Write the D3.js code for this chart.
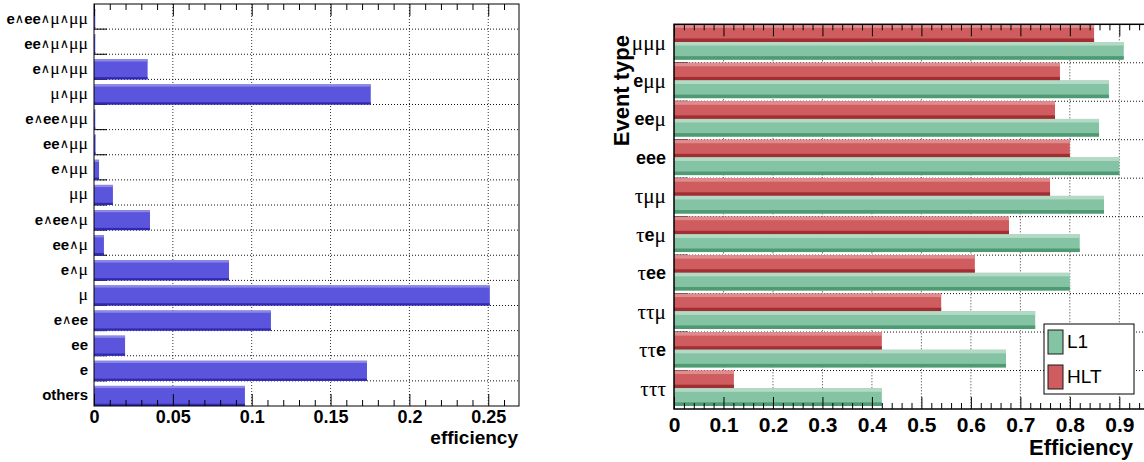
<!DOCTYPE html>
<html><head><meta charset="utf-8">
<script src="https://cdn.jsdelivr.net/npm/d3@7"></script>
<style>
body{margin:0;background:#fff}
svg{display:block}
text{font-family:"Liberation Sans",Arial,Helvetica,sans-serif}
</style>
</head><body>
<svg id="c" width="1144" height="462"></svg>
<script>
// ---------- data ----------
const leftCategories = ["e∧ee∧μ∧μμ","ee∧μ∧μμ","e∧μ∧μμ","μ∧μμ","e∧ee∧μμ","ee∧μμ","e∧μμ","μμ","e∧ee∧μ","ee∧μ","e∧μ","μ","e∧ee","ee","e","others"];
const leftValues = [0.0008,0.0008,0.034,0.1755,0.0008,0.001,0.0032,0.012,0.0355,0.0063,0.0856,0.251,0.1122,0.0197,0.1731,0.0957];
const leftTicks = [0,0.05,0.1,0.15,0.2,0.25];
const leftTickLabels = ["0","0.05","0.1","0.15","0.2","0.25"];
const leftTitle = "efficiency";

const rightCategories = ["μμμ","eμμ","eeμ","eee","τμμ","τeμ","τee","ττμ","ττe","τττ"];
const l1Values  = [0.909,0.879,0.859,0.900,0.869,0.820,0.800,0.730,0.671,0.420];
const hltValues = [0.849,0.780,0.770,0.800,0.760,0.677,0.608,0.540,0.420,0.121];
const rightTicks = [0,0.1,0.2,0.3,0.4,0.5,0.6,0.7,0.8,0.9];
const rightTickLabels = ["0","0.1","0.2","0.3","0.4","0.5","0.6","0.7","0.8","0.9"];
const rightTitle = "Efficiency";
const rightYTitle = "Event type";
const seriesNames = ["L1","HLT"];

// ---------- styles ----------
const blue = {light:"#8c88e6", main:"#5a55dc", dark:"#3128b0"};
const green = {light:"#b4dac6", main:"#85c3a5", dark:"#4d9a73"};
const red = {light:"#df8c8e", main:"#cf5c5e", dark:"#a12e33"};

const svg = d3.select("#c");

function hbar(g, x0, x1, y0, y1, c, frac){
  const h = y1 - y0, s = h*frac;
  const w = Math.max(0,x1-x0);
  g.append("rect").attr("x",x0).attr("y",y0).attr("width",w).attr("height",h).attr("fill",c.main);
  g.append("rect").attr("x",x0).attr("y",y0).attr("width",w).attr("height",s).attr("fill",c.light);
  g.append("rect").attr("x",x0).attr("y",y1-s).attr("width",w).attr("height",s).attr("fill",c.dark);
}

function richLabel(g, str, x, y, size){
  const t = g.append("text").attr("x",x).attr("y",y).attr("text-anchor","end")
    .attr("dominant-baseline","central").attr("font-size",size);
  for (const ch of str){
    if (/[μτ]/.test(ch)){
      t.append("tspan").text(ch).attr("font-family","Liberation Serif, DejaVu Serif, serif")
        .attr("font-weight","normal").attr("font-size",size*1.18);
    } else if (ch === "∧"){
      t.append("tspan").text(ch).attr("font-family","DejaVu Sans, sans-serif")
        .attr("font-weight","normal").attr("font-size",size*0.85);
    } else {
      t.append("tspan").text(ch).attr("font-weight","bold");
    }
  }
}

function grid(g, x, xvals, yvals, x0, x1, y0, y1){
  g.selectAll(null).data(xvals).enter().append("line")
    .attr("x1",d=>x(d)).attr("x2",d=>x(d)).attr("y1",y0).attr("y2",y1)
    .attr("stroke","#333").attr("stroke-width",1).attr("stroke-dasharray","1,2");
  g.selectAll(null).data(yvals).enter().append("line")
    .attr("x1",x0).attr("x2",x1).attr("y1",d=>d).attr("y2",d=>d)
    .attr("stroke","#111").attr("stroke-width",1).attr("stroke-dasharray","1,2");
}

function xAxes(g, x, majors, labels, minors, top, bottom, majorLen, labelOffset, fontSize){
  const ab = d3.axisBottom(x).tickValues(majors).tickSize(-majorLen).tickFormat((d,i)=>labels[i]);
  const gb = g.append("g").attr("transform",`translate(0,${bottom})`).call(ab);
  gb.select(".domain").remove();
  gb.selectAll("line").attr("stroke","#000");
  gb.selectAll("text").attr("y",labelOffset).attr("dy",0).attr("font-size",fontSize)
    .attr("font-weight","bold").attr("fill","#000").attr("font-family","Liberation Sans, Arial, sans-serif");
  const am = d3.axisBottom(x).tickValues(minors).tickSize(-majorLen/2).tickFormat("");
  const gm = g.append("g").attr("transform",`translate(0,${bottom})`).call(am);
  gm.select(".domain").remove(); gm.selectAll("line").attr("stroke","#000");
  const at = d3.axisTop(x).tickValues(majors).tickSize(-majorLen).tickFormat("");
  const gt = g.append("g").attr("transform",`translate(0,${top})`).call(at);
  gt.select(".domain").remove(); gt.selectAll("line").attr("stroke","#000");
  const atm = d3.axisTop(x).tickValues(minors).tickSize(-majorLen/2).tickFormat("");
  const gtm = g.append("g").attr("transform",`translate(0,${top})`).call(atm);
  gtm.select(".domain").remove(); gtm.selectAll("line").attr("stroke","#000");
}

// ================= LEFT PLOT =================
{
  const L = 94, R = 519, T = 4, B = 406;
  const g = svg.append("g");
  const x = d3.scaleLinear().domain([0,0.2695]).range([L,R]);
  const y = d3.scaleBand().domain(leftCategories).range([T,B]);
  const bounds = d3.range(1,leftCategories.length).map(i=>T + i*y.step());
  grid(g, x, leftTicks.slice(1), bounds, L, R, T, B);
  g.selectAll(null).data(bounds).enter().append("line")
    .attr("x1",L).attr("x2",L+13).attr("y1",d=>d).attr("y2",d=>d).attr("stroke","#000");
  leftCategories.forEach((c,i)=>{
    const y0 = y(c) + 0.2*y.bandwidth(), y1 = y(c) + y.bandwidth();
    hbar(g, x(0), x(leftValues[i]), y0, y1, blue, 0.11);
  });
  const minors = d3.range(0,0.27,0.01).filter(v=>Math.abs(Math.round(v/0.05)*0.05-v)>1e-6);
  xAxes(g, x, leftTicks, leftTickLabels, minors, T, B, 12, 17, 18);
  g.append("rect").attr("x",L).attr("y",T).attr("width",R-L).attr("height",B-T)
    .attr("fill","none").attr("stroke","#000").attr("stroke-width",1);
  leftCategories.forEach(c=>richLabel(g, c, 88, y(c)+y.bandwidth()/2+1, 15));
  g.append("text").attr("x",518).attr("y",444).attr("text-anchor","end")
    .attr("font-size",19).attr("font-weight","bold").text(leftTitle);
}

// ================= RIGHT PLOT =================
{
  const L = 674, T = 24.3, B = 409;
  const x = d3.scaleLinear().domain([0,1]).range([L,L+494.8]);
  const R = x(0.96);
  const g = svg.append("g");
  const y = d3.scaleBand().domain(rightCategories).range([T,B]);
  const bounds = d3.range(1,rightCategories.length).map(i=>T + i*y.step());
  grid(g, x, rightTicks.slice(1), bounds, L, R, T, B);
  g.selectAll(null).data(bounds).enter().append("line")
    .attr("x1",L).attr("x2",L+14).attr("y1",d=>d).attr("y2",d=>d).attr("stroke","#000");
  rightCategories.forEach((c,i)=>{
    const r0 = y(c), h = y.bandwidth();
    hbar(g, x(0), x(hltValues[i]), r0, r0 + 0.46*h, red, 0.2);
    hbar(g, x(0), x(l1Values[i]), r0 + 0.46*h, r0 + 0.92*h, green, 0.2);
  });
  const minors = d3.range(0,0.97,0.02).filter(v=>Math.abs(Math.round(v/0.1)*0.1-v)>1e-6);
  xAxes(g, x, rightTicks, rightTickLabels, minors, T, B, 12, 22.7, 21);
  g.append("rect").attr("x",L).attr("y",T).attr("width",R-L).attr("height",B-T)
    .attr("fill","none").attr("stroke","#000").attr("stroke-width",1.5);
  rightCategories.forEach(c=>richLabel(g, c, 666, y(c)+y.bandwidth()/2-1, 18));
  g.append("text").attr("x",1133).attr("y",455).attr("text-anchor","end")
    .attr("font-size",22).attr("font-weight","bold").text(rightTitle);
  g.append("text").attr("transform","translate(629,35) rotate(-90)").attr("text-anchor","end")
    .attr("font-size",22).attr("font-weight","bold").text(rightYTitle);
  const lg = g.append("g");
  lg.append("rect").attr("x",1044).attr("y",324).attr("width",90).attr("height",70)
    .attr("fill","#fff").attr("stroke","#000").attr("stroke-width",1);
  const items = [{name:seriesNames[0], c:green, y:330},{name:seriesNames[1], c:red, y:365}];
  items.forEach(it=>{
    lg.append("rect").attr("x",1048).attr("y",it.y).attr("width",15).attr("height",24)
      .attr("fill",it.c.main).attr("stroke","#1a1a1a").attr("stroke-width",1);
    lg.append("text").attr("x",1067).attr("y",it.y+18).attr("font-size",19).text(it.name);
  });
}
</script>
</body></html>
